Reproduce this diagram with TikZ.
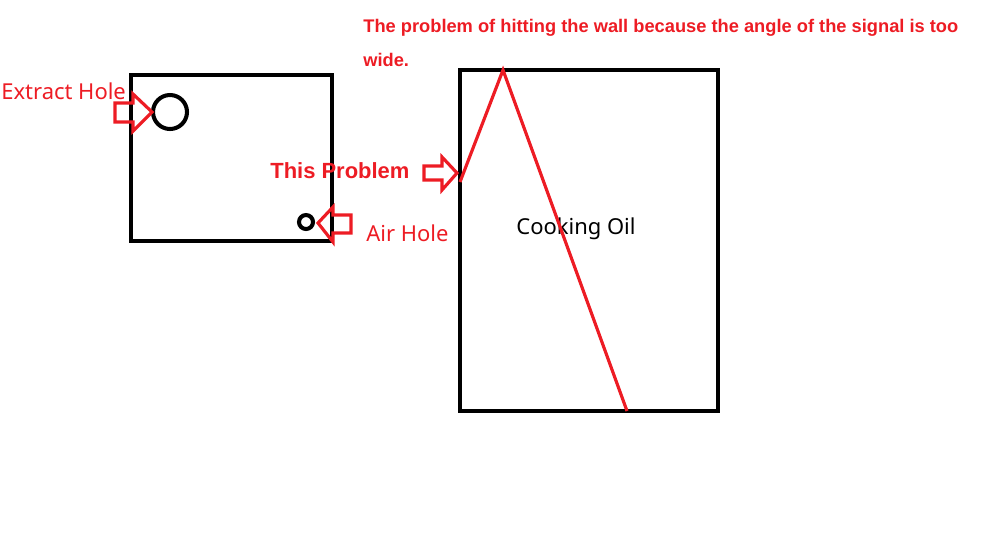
\documentclass[tikz,border=0pt]{standalone}
\usepackage{fontspec}
\setmainfont{Noto Sans}
\newfontfamily\boldsans{Liberation Sans}
\definecolor{paintred}{RGB}{237,28,36}
\tikzset{
  wall/.style={line width=2.3pt},
  redlabel/.style={text=paintred, inner sep=0pt, font=\fontsize{12.5}{15}\selectfont},
  blockarrow/.style={draw=paintred, line width=1.8pt, line join=miter},
}
\begin{document}
\begin{tikzpicture}[x=0.02cm, y=-0.02cm]
  \useasboundingbox (0,0) rectangle (999,539);
  % left box with the two holes
  \draw[wall] (131,75) rectangle (332,241);
  \draw[wall] (170,112) circle(17);
  \draw[wall] (306,222) circle(7);
  % right box
  \draw[wall] (460,70) rectangle (718,411);
  \node (oil) at (576,229) {\fontsize{12.5}{15}\selectfont Cooking Oil};
  % signal
  \coordinate (hit) at (460,182);
  \coordinate (top) at (503,70);
  \coordinate (bottom) at (627,411);
  \draw[paintred, line width=1.8pt, line join=miter] (hit) -- (top) -- (bottom);
  % block arrows
  \draw[blockarrow]
  (115,103) -- (133,103) -- (133,94) -- (152,112) --
  (133,131) -- (133,122) -- (115,122) -- cycle;
  \draw[blockarrow]
  (424,166) -- (442,166) -- (442,157) -- (457,173) --
  (442,190) -- (442,180) -- (424,180) -- cycle;
  \draw[blockarrow]
  (351,215) -- (333,215) -- (333,207) -- (318,223) --
  (333,242) -- (333,233) -- (351,233) -- cycle;
  % labels
  \node[redlabel, anchor=west] (extract) at (1,91) {Extract Hole};
  \node[redlabel, anchor=west] (air) at (366,233) {Air Hole};
  \node[redlabel, anchor=west, font=\fontsize{12.5}{15}\selectfont\boldsans\bfseries] (this) at (270,171) {This Problem};
  \node[redlabel, anchor=north west, align=left, font=\fontsize{10.4}{19.3}\selectfont\boldsans\bfseries]
    (title) at (363,19) {The problem of hitting the wall because the angle of the signal is too\\wide.};
\end{tikzpicture}
\end{document}
